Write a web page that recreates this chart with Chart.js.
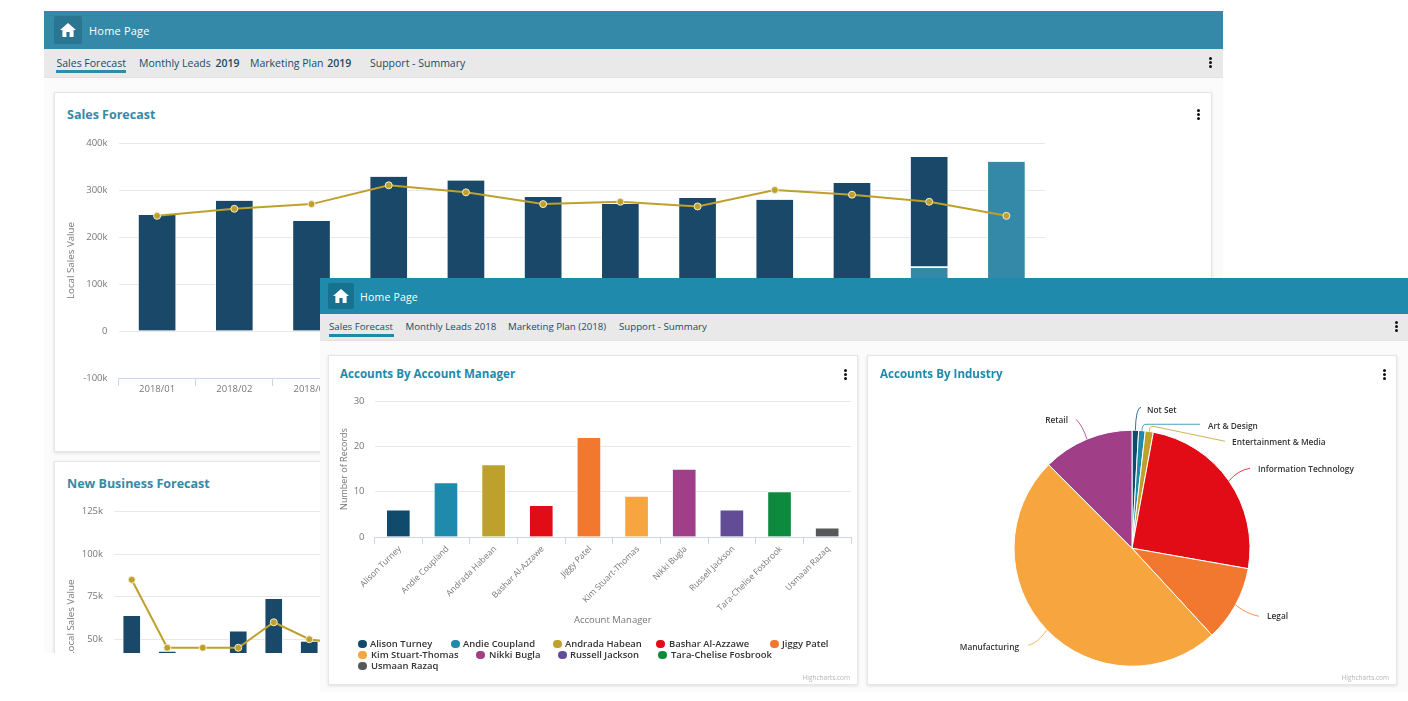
<!DOCTYPE html>
<html>
<head>
<meta charset="utf-8">
<title>Dashboards</title>
<script src="https://cdn.jsdelivr.net/npm/chart.js@4/dist/chart.umd.min.js"></script>
<style>
  html, body { margin: 0; padding: 0; width: 1408px; height: 701px; overflow: hidden; background: #fff; font-family: "Open Sans", sans-serif; }
  .window { position: absolute; overflow: hidden; background: #fbfbfb; }
  #back { left: 44px; top: 11px; width: 1179px; height: 642px; }
  #front { left: 320px; top: 278px; width: 1088px; height: 414px; }
  .header { position: absolute; left: 0; top: 0; right: 0; color: #fff; font-size: 11px; font-weight: 500; }
  #back .header { height: 38px; background: #3589a8; }
  #front .header { height: 36px; background: #1f8aab; }
  .home { position: absolute; border-radius: 2px; display: flex; align-items: center; justify-content: center; }
  #back .home { left: 10px; top: 5px; width: 28px; height: 28px; background: #2a7591; }
  #front .home { left: 8px; top: 5px; width: 26px; height: 26px; background: #17728f; }
  .header span { position: absolute; letter-spacing: 0.2px; }
  #back .header span { left: 45px; top: 12px; }
  #front .header span { left: 40px; top: 12px; font-size: 10.5px; }
  .tabs { position: absolute; left: 0; right: 0; background: #e9e9e9; border-bottom: 1px solid #e2e2e2; color: #1c4a68; font-size: 10.5px; font-weight: 500; }
  #back .tabs { top: 38px; height: 28px; }
  #front .tabs { top: 36px; height: 26px; font-size: 9.7px; }
  .tabs span { position: absolute; white-space: nowrap; }
  #back .tabs span { top: 7px; }
  #front .tabs span { top: 6px; }
  .tabs i { position: absolute; height: 2.5px; }
  .card { position: absolute; background: #fff; border: 1px solid #e6e6e6; box-shadow: 0 1px 3px rgba(0,0,0,0.12); box-sizing: border-box; overflow: hidden; }
  .card h3 { position: absolute; margin: 0; font-size: 12.5px; font-weight: 700; white-space: nowrap; }
  #back h3 { color: #3589a8; left: 12px; top: 13px; }
  #front h3 { color: #1f8aab; left: 11px; top: 10px; font-size: 11.6px; }
  .card canvas { position: absolute; left: -1px; top: -1px; }
  .kebab { position: absolute; width: 3px; }
  .kebab b { display: block; width: 3px; height: 3px; border-radius: 50%; background: #111; margin-bottom: 1.2px; }
  .credit { position: absolute; right: 7px; bottom: 2px; font-size: 6.5px; color: #b5b5b5; }
  #legend { position: absolute; left: 0; top: 0; font-size: 9.45px; font-weight: 600; color: #333; }
  #legend div { position: absolute; white-space: nowrap; }
  #legend i { position: absolute; width: 8.5px; height: 8.5px; border-radius: 50%; }
</style>
</head>
<body>
<div class="window" id="back">
  <div class="header"><div class="home"></div><span>Home Page</span></div>
  <div class="tabs">
    <span style="left:12.5px">Sales Forecast</span><i style="left:12px;width:70px;top:21px;background:#3589a8"></i>
    <span style="left:95px">Monthly Leads <b style="font-weight:600;margin-left:2px">2019</b></span>
    <span style="left:206px">Marketing Plan <b style="font-weight:600;margin-left:1px">2019</b></span>
    <span style="left:326px">Support - Summary</span>
    <div class="kebab" style="left:1165px;top:8px"><b></b><b></b><b></b></div>
  </div>
  <div class="card" style="left:10px;top:81px;width:1158px;height:360px">
    <h3>Sales Forecast</h3>
    <canvas id="salesChart" width="1158" height="360"></canvas>
    <div class="kebab" style="left:1142px;top:16px"><b></b><b></b><b></b></div>
  </div>
  <div class="card" style="left:10px;top:450px;width:1158px;height:260px">
    <h3>New Business Forecast</h3>
    <canvas id="businessChart" width="340" height="280"></canvas>
  </div>
</div>

<div class="window" id="front">
  <div class="header"><div class="home"></div><span>Home Page</span></div>
  <div class="tabs">
    <span style="left:9px">Sales Forecast</span><i style="left:9px;width:65px;top:20px;background:#1f8aab"></i>
    <span style="left:85.5px">Monthly Leads 2018</span>
    <span style="left:188px">Marketing Plan (2018)</span>
    <span style="left:299px">Support - Summary</span>
    <div class="kebab" style="left:1075px;top:7px"><b></b><b></b><b></b></div>
  </div>
  <div class="card" style="left:8px;top:77px;width:530px;height:330px">
    <h3>Accounts By Account Manager</h3>
    <canvas id="managerChart" width="530" height="330"></canvas>
    <div id="legend"></div>
    <div class="kebab" style="left:515px;top:13px"><b></b><b></b><b></b></div>
    <div class="credit">Highcharts.com</div>
  </div>
  <div class="card" style="left:547px;top:77px;width:530px;height:330px">
    <h3 style="left:12px">Accounts By Industry</h3>
    <canvas id="industryChart" width="530" height="330"></canvas>
    <div class="kebab" style="left:515px;top:13px"><b></b><b></b><b></b></div>
    <div class="credit">Highcharts.com</div>
  </div>
</div>

<script>
// --- data ---
const months = ['2018/01', '2018/02', '2018/03', '2018/04', '2018/05', '2018/06', '2018/07', '2018/08', '2018/09', '2018/10', '2018/11', '2018/12'];
const salesClosed = [247000, 277000, 234000, 328000, 320000, 285000, 270000, 283000, 279000, 315000, 236000, 0];
const salesOpen = [0, 0, 0, 0, 0, 0, 0, 0, 0, 0, 134000, 360000];
const salesTarget = [245000, 260000, 270000, 310000, 295000, 270000, 275000, 265000, 300000, 290000, 275000, 245000];

const businessBars = [64000, 43000, 0, 55000, 74000, 49000, 0];
const businessTarget = [85000, 45000, 45000, 45000, 60000, 50000, 47000];
const businessMonths = months.slice(0, 7);

const managers = ['Alison Turney', 'Andie Coupland', 'Andrada Habean', 'Bashar Al-Azzawe', 'Jiggy Patel', 'Kim Stuart-Thomas', 'Nikki Bugla', 'Russell Jackson', 'Tara-Chelise Fosbrook', 'Usmaan Razaq'];
const managerRecords = [6, 12, 16, 7, 22, 9, 15, 6, 10, 2];

const industries = ['Not Set', 'Art & Design', 'Entertainment & Media', 'Information Technology', 'Legal', 'Manufacturing', 'Retail'];
const industryShare = [0.9, 0.9, 1.1, 24.9, 10.4, 49.4, 12.5];

const palette = ['#114b6c', '#1f8aab', '#bea12c', '#e20c17', '#f2772f', '#f7a53e', '#a03e87', '#624c96', '#0e8a3e', '#58585a'];
const pieColors = ['#114b6c', '#1f8aab', '#bea12c', '#e20c17', '#f2772f', '#f7a53e', '#a03e87'];

const navy = '#1a4868';
const teal = '#3589a8';
const gold = '#bfa02c';
const gridColor = '#e8e8e8';
const axisColor = '#ccd6eb';
const tickColor = '#777';

Chart.defaults.font.family = '"Open Sans", sans-serif';
Chart.defaults.animation = false;
Chart.defaults.responsive = false;
Chart.defaults.plugins.legend.display = false;
Chart.defaults.plugins.tooltip.enabled = false;

const kFormat = v => (v === 0 ? '0' : (v / 1000) + 'k');

// y axis with a fixed gutter, so the plot sits where the screenshot has it
function valueAxis(opts) {
  return {
    stacked: opts.stacked,
    min: opts.min,
    max: opts.max,
    afterFit: scale => { scale.width = opts.gutter; },
    grid: { color: gridColor, drawTicks: false },
    border: { display: false },
    ticks: { stepSize: opts.step, padding: opts.tickPad, color: tickColor, font: { size: 9.5 }, callback: opts.format },
    title: { display: true, text: opts.title, color: tickColor, font: { size: opts.titleSize }, padding: { top: opts.titlePad, bottom: 0 } }
  };
}

function targetLine(values) {
  return {
    type: 'line',
    data: values,
    stack: 'target',
    order: 0,
    borderColor: gold,
    borderWidth: 2,
    pointBackgroundColor: gold,
    pointBorderColor: '#f1edd5',
    pointBorderWidth: 1,
    pointRadius: 3.5,
    tension: 0
  };
}

new Chart(document.getElementById('salesChart'), {
  type: 'bar',
  data: {
    labels: months,
    datasets: [
      { data: salesOpen, stack: 'sales', order: 1, backgroundColor: teal, borderColor: '#fff', borderSkipped: false, borderWidth: { left: 1, right: 1, top: 0, bottom: 0 }, barThickness: 38 },
      {
        data: salesClosed,
        stack: 'sales',
        order: 2,
        backgroundColor: navy,
        borderColor: '#fff',
        borderSkipped: false,
        // white gap only where the bar sits on top of an open value
        borderWidth: ctx => ({ left: 1, right: 1, top: 0, bottom: salesOpen[ctx.dataIndex] > 0 ? 2 : 0 }),
        barThickness: 38
      },
      targetLine(salesTarget)
    ]
  },
  options: {
    layout: { padding: { top: 51, right: 167, bottom: 0, left: 0 } },
    scales: {
      x: {
        stacked: true,
        afterFit: scale => { scale.height = 74; },
        grid: { drawOnChartArea: false, tickColor: axisColor, tickLength: 8 },
        border: { color: axisColor },
        ticks: { color: tickColor, font: { size: 9.5 }, padding: -2, maxRotation: 0, autoSkip: false }
      },
      y: valueAxis({ stacked: true, min: -100000, max: 400000, step: 100000, gutter: 64.5, tickPad: 11, format: kFormat, title: 'Local Sales Value', titleSize: 9.75, titlePad: 11 })
    }
  }
});

new Chart(document.getElementById('businessChart'), {
  type: 'bar',
  data: {
    labels: businessMonths,
    datasets: [
      { data: businessBars, order: 1, backgroundColor: navy, borderColor: '#fff', borderWidth: 1, barThickness: 18 },
      targetLine(businessTarget)
    ]
  },
  options: {
    layout: { padding: { top: 50.7, right: 31.5, bottom: 7, left: 0 } },
    scales: {
      x: { display: false, afterFit: scale => { scale.height = 0; } },
      y: valueAxis({ min: 0, max: 125000, step: 25000, gutter: 60, tickPad: 11, format: kFormat, title: 'Local Sales Value', titleSize: 9.75, titlePad: 11 })
    }
  }
});

new Chart(document.getElementById('managerChart'), {
  type: 'bar',
  data: {
    labels: managers,
    datasets: [{ data: managerRecords, backgroundColor: palette, borderColor: '#fff', borderWidth: 1, barThickness: 24 }]
  },
  options: {
    layout: { padding: { top: 46, right: 7, bottom: 0, left: 0 } },
    scales: {
      x: {
        afterFit: scale => { scale.height = 148; },
        grid: { drawOnChartArea: false, tickColor: axisColor, tickLength: 7 },
        border: { color: axisColor },
        ticks: { color: tickColor, font: { size: 8.5 }, padding: 0, labelOffset: 1.5, minRotation: 45, maxRotation: 45, autoSkip: false },
        title: { display: true, text: 'Account Manager', color: tickColor, font: { size: 9.5 }, padding: { top: 0, bottom: 59 } }
      },
      y: valueAxis({ min: 0, max: 30, step: 10, gutter: 46.5, tickPad: 10, format: v => v, title: 'Number of Records', titleSize: 9, titlePad: 11 })
    }
  }
});

// html legend, wraps like the highcharts one (row / marker x / text x)
const legendRows = [[0, 33, 41], [0, 126, 134], [0, 228, 236], [0, 331, 340], [0, 445, 453], [1, 33, 42], [1, 151, 160], [1, 233, 241], [1, 333, 342], [2, 33, 42]];
const legendEl = document.getElementById('legend');
managers.forEach((name, i) => {
  const [row, markX, textX] = legendRows[i];
  const top = 280.5 + row * 11.2;
  legendEl.innerHTML += `<i style="left:${markX - 4}px;top:${top + 3}px;background:${palette[i]}"></i><div style="left:${textX}px;top:${top}px">${name}</div>`;
});

// connector bend and label spot for the pie labels, relative to the pie centre
const pieLabelLayout = [
  { text: [15, -138], align: 'left', bend: [4, -141], knee: [9, -141] },
  { text: [76, -122], align: 'left', bend: [10, -124], knee: [14, -124], end: [68, -124] },
  { text: [100, -106], align: 'left', bend: [17, -122], knee: [21, -122], end: [93, -107] },
  { text: [126, -79], align: 'left', bend: [106, -78], knee: [118, -80] },
  { text: [135, 68], align: 'left', bend: [115, 66], knee: [127, 68] },
  { text: [-113, 99], align: 'right', bend: [-94, 95], knee: [-104, 97] },
  { text: [-64, -128], align: 'right', bend: [-49, -122], knee: [-56, -129] }
];

const pieLabels = {
  id: 'pieLabels',
  afterDatasetsDraw(chart) {
    const ctx = chart.ctx;
    ctx.save();
    ctx.font = '600 8.3px "Open Sans", sans-serif';
    ctx.textBaseline = 'middle';
    chart.getDatasetMeta(0).data.forEach((arc, i) => {
      const item = pieLabelLayout[i];
      const mid = (arc.startAngle + arc.endAngle) / 2;
      ctx.strokeStyle = pieColors[i];
      ctx.lineWidth = 0.8;
      ctx.beginPath();
      ctx.moveTo(arc.x + Math.cos(mid) * arc.outerRadius, arc.y + Math.sin(mid) * arc.outerRadius);
      ctx.quadraticCurveTo(arc.x + item.bend[0], arc.y + item.bend[1], arc.x + item.knee[0], arc.y + item.knee[1]);
      if (item.end) ctx.lineTo(arc.x + item.end[0], arc.y + item.end[1]);
      ctx.stroke();
      ctx.fillStyle = '#333';
      ctx.textAlign = item.align;
      ctx.fillText(industries[i], arc.x + item.text[0], arc.y + item.text[1]);
    });
    ctx.restore();
  }
};

new Chart(document.getElementById('industryChart'), {
  type: 'pie',
  data: {
    labels: industries,
    datasets: [{ data: industryShare, backgroundColor: pieColors, borderColor: '#fff', borderWidth: 1, radius: 118 }]
  },
  options: {
    layout: { padding: { top: 75.5, right: 147, bottom: 19, left: 147 } }
  },
  plugins: [pieLabels]
});

// home icon on both headers
document.querySelectorAll('.home').forEach(el => {
  el.innerHTML = '<svg width="16" height="14" viewBox="0 0 16 14"><path d="M8 0 L16 7 H13.6 V14 H9.6 V9 H6.4 V14 H2.4 V7 H0 Z" fill="#fff"/></svg>';
});
</script>
</body>
</html>
